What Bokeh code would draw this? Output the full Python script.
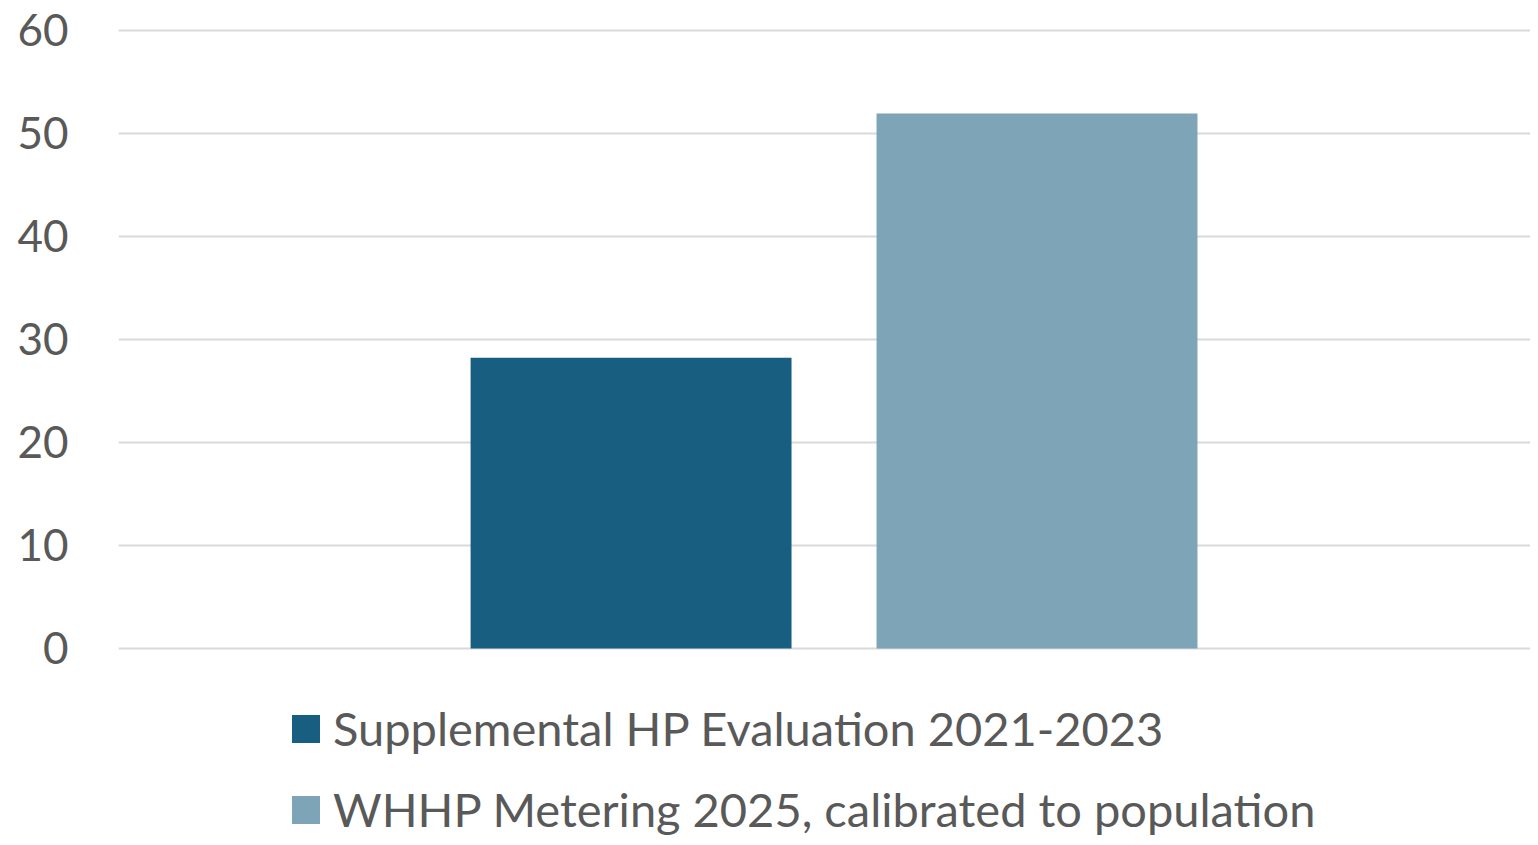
from bokeh.plotting import figure
from bokeh.models import ColumnDataSource, FactorRange, Range1d, Legend, LegendItem, FixedTicker
from bokeh.transform import dodge
from bokeh.embed import file_html
from bokeh.resources import INLINE

series = ["Supplemental HP Evaluation 2021-2023", "WHHP Metering 2025, calibrated to population"]
values = [28.2, 51.9]
colors = ["#175E80", "#7EA4B8"]
group = [""]
y_ticks = [0, 10, 20, 30, 40, 50, 60]

offsets = [-0.137, 0.1505]
bar_width = 0.2273
FONT = "Lato"
TEXT = "#595959"

p = figure(width=1530, height=837,
           x_range=FactorRange(factors=group, range_padding=0),
           y_range=Range1d(-18.335, 61.116),
           output_backend="svg", toolbar_location=None,
           min_border_left=118, min_border_right=0,
           min_border_top=18, min_border_bottom=0)

items = []
for name, v, c, off in zip(series, values, colors, offsets):
    src = ColumnDataSource(data=dict(x=group, top=[v]))
    r = p.vbar(x=dodge("x", off, range=p.x_range), top="top", bottom=0, width=bar_width,
               source=src, fill_color=c, line_color=None)
    items.append(LegendItem(label=name, renderers=[r]))

p.xaxis.visible = False
p.xgrid.grid_line_color = None
p.ygrid.grid_line_color = "#D9D9D9"
p.ygrid.grid_line_width = 2
p.ygrid.ticker = FixedTicker(ticks=y_ticks)
p.yaxis.ticker = FixedTicker(ticks=y_ticks)
p.yaxis.axis_line_color = None
p.yaxis.major_tick_line_color = None
p.yaxis.minor_tick_line_color = None
p.yaxis.major_tick_in = 0
p.yaxis.major_tick_out = 0
p.yaxis.major_label_standoff = 50
p.yaxis.major_label_text_font = FONT
p.yaxis.major_label_text_font_size = "44px"
p.yaxis.major_label_text_color = TEXT
p.outline_line_color = None
p.background_fill_color = "white"
p.border_fill_color = "white"

legend = Legend(items=items, location=(170, 0), orientation="vertical")
legend.padding = 0
legend.margin = 0
legend.border_line_color = None
legend.background_fill_alpha = 0
legend.label_text_font = FONT
legend.label_text_font_size = "47px"
legend.label_text_color = TEXT
legend.glyph_width = 35
legend.glyph_height = 35
legend.label_standoff = 10
legend.spacing = 25
p.add_layout(legend, "center")

open("out.html", "w").write(file_html(p, INLINE))
